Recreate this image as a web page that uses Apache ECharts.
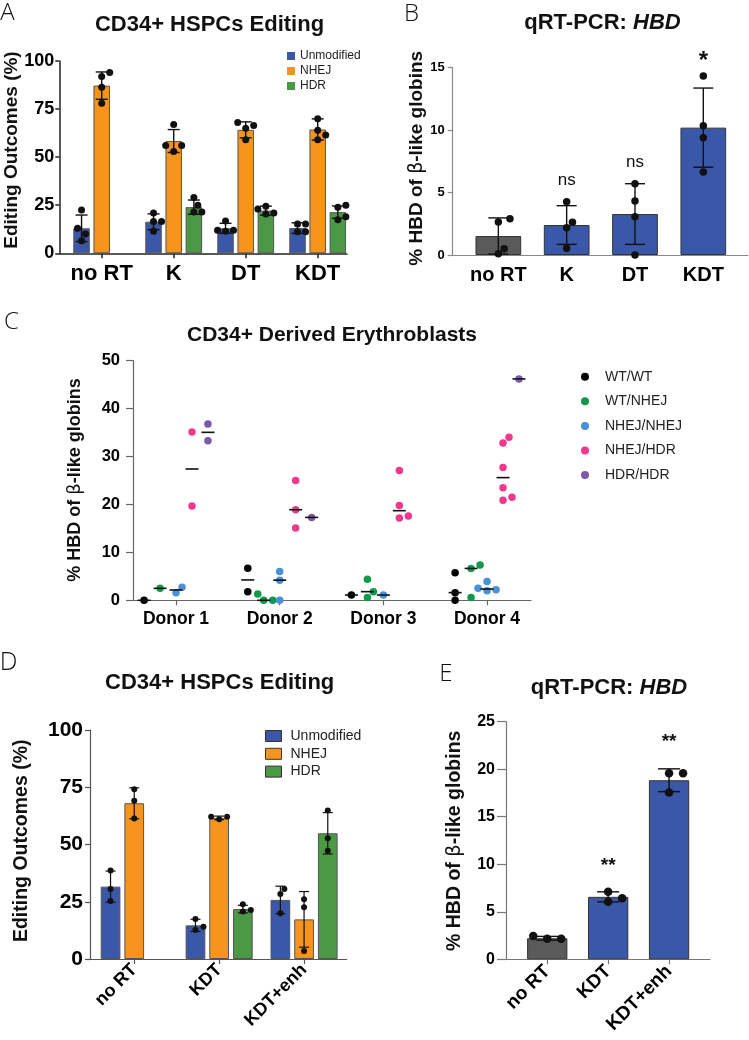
<!DOCTYPE html>
<html><head><meta charset="utf-8">
<script src="https://cdn.jsdelivr.net/npm/echarts@6/dist/echarts.min.js"></script>
<style>html,body{margin:0;padding:0;background:#fff}#c{width:749px;height:1040px}</style>
</head><body><div id="c"></div>
<script>
// ================= DATA =================
// Panel A
const catsA = ['no RT', 'K', 'DT', 'KDT'];
const outcomeNames = ['Unmodified', 'NHEJ', 'HDR'];
const aUnmodMean = [13.0, 16.4, 13.0, 13.1];
const aUnmodSd = [6.9, 4.1, 2.6, 2.75];
const aUnmodPts = [[22.5, 13, 10, 6.5], [21, 16.5, 16.5, 11.5], [16.8, 12, 12, 11.5], [15.2, 15.2, 11.2, 11.2]];
const aNhejMean = [87.2, 58.4, 64.2, 64.4];
const aNhejSd = [7.1, 5.95, 4.15, 5.5];
const aNhejPts = [[94, 92, 86.3, 78], [67, 56, 56, 53], [66.5, 68, 59, 65], [70, 64, 61.5, 59]];
const aHdrMean = [null, 24.0, 22.2, 21.4];
const aHdrSd = [null, 3.7, 2.35, 3.2];
const aHdrPts = [[], [29, 25, 21.5, 21.5], [24.5, 23, 21, 20.5], [25, 24, 19, 17.5]];
const aYTicks = [0, 25, 50, 75, 100];

// Panel B
const catsB = ['no RT', 'K', 'DT', 'KDT'];
const bMean = [1.52, 2.4, 3.28, 10.2];
const bSd = [1.45, 1.55, 2.43, 3.17];
const bPts = [[2.9, 2.65, 0.5, 0.1], [4.27, 2.62, 2.19, 0.54], [5.71, 4.33, 3.07, 0], [14.34, 10.36, 9.4, 6.65]];
const bSig = ['', 'ns', 'ns', '*'];
const bSigY = [0, 6.0, 7.4, 15.5];
const bYTicks = [0, 5, 10, 15];

// Panel C
const donors = ['Donor 1', 'Donor 2', 'Donor 3', 'Donor 4'];
const genotypes = ['WT/WT', 'WT/NHEJ', 'NHEJ/NHEJ', 'NHEJ/HDR', 'HDR/HDR'];
const cWtWt = [[0], [6.7, 1.8], [1.1], [5.75, 1.6, 0]];
const cWtNhej = [[2.5], [1.3, 0, 0], [4.4, 1.8, 0.6], [7.35, 6.65, 0.6]];
const cNhejNhej = [[2.7, 1.6], [6.0, 4.2, 0], [1.1], [3.9, 2.5, 2.2, 2.0]];
const cNhejHdr = [[35.1, 19.7], [25.0, 18.9, 15.1], [27.1, 19.8, 17.6, 17.2], [34.0, 32.8, 27.7, 23.5, 21.5, 20.9]];
const cHdrHdr = [[36.8, 33.3], [17.3], [], [46.2]];
const cYTicks = [0, 10, 20, 30, 40, 50];

// Panel D
const catsD = ['no RT', 'KDT', 'KDT+enh'];
const dUnmodMean = [31.6, 14.7, 25.8];
const dUnmodSd = [6.8, 2.65, 6.0];
const dUnmodPts = [[38.6, 30.6, 25.3], [17.5, 12.7, 14.1], [30.6, 28.4, 19.95]];
const dNhejMean = [68.0, 61.6, 17.3];
const dNhejSd = [6.75, 0.8, 12.15];
const dNhejPts = [[74.1, 69.1, 61.3], [61.0, 62.1, 62.1], [26.1, 22.6, 3.5]];
const dHdrMean = [null, 21.8, 54.9];
const dHdrSd = [null, 1.65, 9.05];
const dHdrPts = [[], [23.9, 20.7, 21.4], [64.8, 52.7, 47.3]];
const dYTicks = [0, 25, 50, 75, 100];

// Panel E
const catsE = ['no RT', 'KDT', 'KDT+enh'];
const eMean = [2.21, 6.57, 18.84];
const eSd = [0.2, 0.53, 1.2];
const ePts = [[2.15, 2.45, 2.15], [7.12, 6.06, 6.42], [19.58, 19.58, 17.54]];
const eSig = ['', '**', '**'];
const eSigY = [0, 9.85, 22.84];
const eYTicks = [0, 5, 10, 15, 20, 25];

// ================= STYLE / LAYOUT =================
const FONT = '"Liberation Sans", Arial, sans-serif';
const LETTER_FONT = '"Open Sans", "Noto Sans", sans-serif';
const COL = { Unmodified: '#3b57a7', NHEJ: '#f6941e', HDR: '#4b9945' };
const GENO_COL = ['#000000', '#0f9a4b', '#4a90d6', '#ee3a8c', '#7c59a6'];
const GRAY = '#5a5a5a', BLUE = '#3b57a7';

// beeswarm offsets (px) to avoid overlap of dots
function swarm(values, pxY, d, step) {
  const idx = values.map((v, i) => i).sort((a, b) => values[a] - values[b]);
  const placed = [], out = new Array(values.length);
  for (const i of idx) {
    const y = values[i] * pxY;
    let dx = 0;
    for (let n = 0; n < 60; n++) {
      dx = n === 0 ? 0 : (n % 2 ? 1 : -1) * Math.ceil(n / 2) * step;
      if (placed.every(p => Math.hypot(p.x - dx, p.y - y) >= d)) break;
    }
    placed.push({ x: dx, y });
    out[i] = dx;
  }
  return out;
}
function ptsData(groups, centers, pxX, pxY, d, step) {
  const res = [];
  groups.forEach((g, i) => {
    if (!g || !g.length) return;
    const off = swarm(g, pxY, d, step);
    g.forEach((v, k) => res.push([centers[i] + off[k] / pxX, v]));
  });
  return res;
}
function errSeries(gi, data, capHalf, lw) {
  return {
    type: 'custom', xAxisIndex: gi, yAxisIndex: gi, z: 5, clip: false, silent: true,
    data: data,
    renderItem: (p, api) => {
      const x = api.value(0), m = api.value(1), s = api.value(2);
      const t = api.coord([x, m + s]), b = api.coord([x, Math.max(0, m - s)]);
      const st = { stroke: '#111', lineWidth: lw };
      return { type: 'group', children: [
        { type: 'line', shape: { x1: t[0], y1: t[1], x2: b[0], y2: b[1] }, style: st },
        { type: 'line', shape: { x1: t[0] - capHalf, y1: t[1], x2: t[0] + capHalf, y2: t[1] }, style: st },
        { type: 'line', shape: { x1: b[0] - capHalf, y1: b[1], x2: b[0] + capHalf, y2: b[1] }, style: st }
      ]};
    }
  };
}
function textSeries(gi, data, labels, font) {
  return {
    type: 'custom', xAxisIndex: gi, yAxisIndex: gi, z: 7, clip: false, silent: true,
    data: data,
    renderItem: (p, api) => {
      const c = api.coord([api.value(0), api.value(1)]);
      return { type: 'text', x: c[0], y: c[1], style: { text: labels[p.dataIndex], align: 'center', verticalAlign: 'middle', textAlign: 'center', textVerticalAlign: 'middle', font: font, fill: '#111' } };
    }
  };
}
function dotSeries(gi, data, size, color, name) {
  return { type: 'scatter', name: name, xAxisIndex: gi, yAxisIndex: gi, z: 6, symbolSize: size, silent: true,
    itemStyle: { color: color, opacity: 1 }, data: data };
}
function barSeries(gi, name, data, width, colors, border) {
  return {
    type: 'bar', name: name, xAxisIndex: gi, yAxisIndex: gi, z: 2, barWidth: width, barGap: '-100%', silent: true,
    itemStyle: { color: COL[name] || BLUE, borderColor: border, borderWidth: 1 },
    data: data.map((d, i) => colors ? { value: d, itemStyle: { color: colors[i] } } : d)
  };
}
function xAxisCfg(gi, min, max, cats, o) {
  const vals = cats.map((c, i) => i + 1);
  return {
    type: 'value', gridIndex: gi, min: min, max: max, splitLine: { show: false },
    axisLine: { onZero: false, lineStyle: { color: o.line, width: o.lw } },
    axisTick: { show: o.tick, customValues: vals, length: 5, lineStyle: { color: o.line, width: o.lw } },
    axisLabel: { customValues: vals, formatter: v => cats[Math.round(v) - 1], fontFamily: FONT, fontWeight: 'bold',
      fontSize: o.fs, color: '#000', margin: o.margin, rotate: o.rotate || 0 }
  };
}
function yAxisCfg(gi, ticks, o) {
  return {
    type: 'value', gridIndex: gi, min: ticks[0], max: ticks[ticks.length - 1], interval: ticks[1] - ticks[0],
    splitLine: { show: false },
    axisLine: { show: true, onZero: false, lineStyle: { color: o.line, width: o.lw } },
    axisTick: { show: true, length: o.tl || 5, lineStyle: { color: o.line, width: o.lw } },
    axisLabel: { fontFamily: FONT, fontWeight: 'bold', fontSize: o.fs, color: '#000', margin: o.margin }
  };
}
function txt(x, y, text, size, weight, opts) {
  opts = opts || {};
  return { type: 'text', x: x, y: y, rotation: opts.rot || 0, silent: true,
    style: { text: text, fontSize: size, fontWeight: weight, fontFamily: opts.family || FONT, fill: '#111',
      align: 'center', verticalAlign: 'middle', textAlign: 'center', textVerticalAlign: 'middle', rich: opts.rich } };
}
const betaRich = s => ({ b: { fontSize: s, fontWeight: 'normal', fontFamily: '"DejaVu Sans", sans-serif', fill: '#111' } });
const italRich = s => ({ i: { fontSize: s, fontWeight: 'bold', fontStyle: 'italic', fontFamily: FONT, fill: '#111' } });

// grids
const grids = [
  { left: 59.3, top: 61, width: 287.7, height: 192.3 },
  { left: 452.7, top: 67.7, width: 295.3, height: 187.3 },
  { left: 133, top: 360.7, width: 398, height: 239.6 },
  { left: 90, top: 730, width: 256.7, height: 229 },
  { left: 506, top: 721.7, width: 204, height: 237.6 }
];
const PX = { A: [72, 192.3 / 100], B: [68.3, 187.3 / 15], C: [103.9, 239.6 / 50], D: [85, 229 / 100], E: [61, 237.6 / 25] };

const series = [];
// ---- A ----
const offA = 0.28;
[[aUnmodMean, aUnmodSd, aUnmodPts], [aNhejMean, aNhejSd, aNhejPts], [aHdrMean, aHdrSd, aHdrPts]].forEach((s, k) => {
  const centers = catsA.map((c, i) => i + 1 + (k - 1) * offA);
  const bars = [], errs = [];
  s[0].forEach((m, i) => { if (m != null) { bars.push([centers[i], m]); errs.push([centers[i], m, s[1][i]]); } });
  series.push(barSeries(0, outcomeNames[k], bars, 16.5, null, '#555'));
  series.push(errSeries(0, errs, 6, 1.4));
  series.push(dotSeries(0, ptsData(s[2], centers, PX.A[0], PX.A[1], 7.5, 4), 7, '#111'));
});
// ---- B ----
{
  const centers = catsB.map((c, i) => i + 1);
  series.push(barSeries(1, 'B', bMean.map((m, i) => [centers[i], m]), 45.7, [GRAY, BLUE, BLUE, BLUE], '#333'));
  series.push(errSeries(1, bMean.map((m, i) => [centers[i], m, bSd[i]]), 10, 1.4));
  series.push(dotSeries(1, ptsData(bPts, centers, PX.B[0], PX.B[1], 7.5, 5.8), 7.5, '#111'));
  series.push(textSeries(1, bSigY.map((v, i) => [centers[i], v]), bSig.map((s, i) => s), ''));
  series[series.length - 1].renderItem = (p, api) => {
    const c = api.coord([api.value(0), api.value(1)]);
    const lab = bSig[p.dataIndex];
    const f = lab === '*' ? 'bold 24px ' + FONT : 'normal 17px ' + FONT;
    return { type: 'text', x: c[0], y: c[1], style: { text: lab, align: 'center', verticalAlign: 'middle', textAlign: 'center', textVerticalAlign: 'middle', font: f, fill: '#111' } };
  };
}
// ---- C ----
const offC = 0.154;
[cWtWt, cWtNhej, cNhejNhej, cNhejHdr, cHdrHdr].forEach((groups, g) => {
  const centers = donors.map((d, i) => i + 1 + (g - 2) * offC);
  series.push(dotSeries(2, ptsData(groups, centers, PX.C[0], PX.C[1], 7.5, 3), 7.5, GENO_COL[g], genotypes[g]));
  const med = [];
  groups.forEach((vals, i) => {
    if (!vals.length) return;
    const s = vals.slice().sort((a, b) => a - b), n = s.length;
    med.push([centers[i], n % 2 ? s[(n - 1) / 2] : (s[n / 2 - 1] + s[n / 2]) / 2]);
  });
  series.push({
    type: 'custom', xAxisIndex: 2, yAxisIndex: 2, z: 7, clip: false, silent: true, data: med,
    renderItem: (p, api) => {
      const c = api.coord([api.value(0), api.value(1)]);
      return { type: 'line', shape: { x1: c[0] - 6.5, y1: c[1], x2: c[0] + 6.5, y2: c[1] }, style: { stroke: '#111', lineWidth: 1.6 } };
    }
  });
});
// ---- D ----
const offD = 0.279;
[[dUnmodMean, dUnmodSd, dUnmodPts], [dNhejMean, dNhejSd, dNhejPts], [dHdrMean, dHdrSd, dHdrPts]].forEach((s, k) => {
  const centers = catsD.map((c, i) => i + 1 + (k - 1) * offD);
  const bars = [], errs = [];
  s[0].forEach((m, i) => { if (m != null) { bars.push([centers[i], m]); errs.push([centers[i], m, s[1][i]]); } });
  series.push(barSeries(3, outcomeNames[k], bars, 19.7, null, '#555'));
  series.push(errSeries(3, errs, 5, 1.2));
  series.push(dotSeries(3, ptsData(s[2], centers, PX.D[0], PX.D[1], 6, 4), 6, '#111'));
});
// ---- E ----
{
  const centers = catsE.map((c, i) => i + 1);
  series.push(barSeries(4, 'E', eMean.map((m, i) => [centers[i], m]), 40.3, [GRAY, BLUE, BLUE], '#333'));
  series.push(errSeries(4, eMean.map((m, i) => [centers[i], m, eSd[i]]), 11, 1.4));
  series.push(dotSeries(4, ptsData(ePts, centers, PX.E[0], PX.E[1], 9, 7), 8.5, '#111'));
  series.push(textSeries(4, eSigY.map((v, i) => [centers[i], v]), eSig, 'bold 19px ' + FONT));
}

const option = {
  animation: false,
  backgroundColor: '#fff',
  grid: grids.map(g => Object.assign({ containLabel: false }, g)),
  xAxis: [
    xAxisCfg(0, 0.411, 4.407, catsA, { line: '#222', lw: 1.5, tick: true, fs: 22, margin: 10 }),
    xAxisCfg(1, 0.332, 4.654, catsB, { line: '#888', lw: 1.2, tick: false, fs: 20, margin: 10 }),
    xAxisCfg(2, 0.585, 4.424, donors, { line: '#666', lw: 1.2, tick: true, fs: 17.5, margin: 10 }),
    xAxisCfg(3, 0.479, 3.502, catsD, { line: '#555', lw: 1.2, tick: true, fs: 18, margin: 8, rotate: 45 }),
    xAxisCfg(4, 0.323, 3.672, catsE, { line: '#777', lw: 1.2, tick: true, fs: 19, margin: 9, rotate: 45 })
  ],
  yAxis: [
    yAxisCfg(0, aYTicks, { line: '#222', lw: 1.5, fs: 18, margin: 5, tl: 4 }),
    yAxisCfg(1, bYTicks, { line: '#888', lw: 1.2, fs: 13, margin: 8 }),
    yAxisCfg(2, cYTicks, { line: '#666', lw: 1.2, fs: 16.5, margin: 13, tl: 7 }),
    yAxisCfg(3, dYTicks, { line: '#555', lw: 1.2, fs: 21, margin: 7 }),
    yAxisCfg(4, eYTicks, { line: '#777', lw: 1.2, fs: 16, margin: 11, tl: 9 })
  ],
  legend: [
    { data: outcomeNames.map(n => ({ name: n, itemStyle: { color: COL[n], borderWidth: 0 } })), left: 282, top: 45, orient: 'vertical', icon: 'rect',
      itemWidth: 8, itemHeight: 8, itemGap: 3, selectedMode: false,
      textStyle: { fontFamily: FONT, fontSize: 12, lineHeight: 12, color: '#222' } },
    { data: genotypes, left: 576, top: 364.7, orient: 'vertical', icon: 'circle', itemWidth: 8, itemHeight: 8, itemGap: 10.6,
      selectedMode: false, textStyle: { fontFamily: FONT, fontSize: 14, lineHeight: 14, color: '#222', padding: [0, 0, 0, 11] } },
    { data: outcomeNames.map(n => ({ name: n, itemStyle: { color: COL[n], borderColor: '#333', borderWidth: 1 } })), left: 260, top: 724, orient: 'vertical', icon: 'rect',
      itemWidth: 16, itemHeight: 11, itemGap: 3.8, selectedMode: false,
      textStyle: { fontFamily: FONT, fontSize: 14, lineHeight: 14, color: '#222', padding: [0, 0, 0, 4] } }
  ],
  graphic: [
    txt(7.5, 13, 'A', 24, 300, { family: LETTER_FONT }),
    txt(411.5, 14, 'B', 24, 300, { family: LETTER_FONT }),
    txt(11.5, 322.5, 'C', 24, 300, { family: LETTER_FONT }),
    txt(8.5, 662.5, 'D', 25, 300, { family: LETTER_FONT }),
    txt(446, 674, 'E', 24, 300, { family: LETTER_FONT }),
    txt(209.5, 25, 'CD34+ HSPCs Editing', 22, 'bold'),
    txt(602.5, 23.3, 'qRT-PCR: {i|HBD}', 22, 'bold', { rich: italRich(22) }),
    txt(332, 335, 'CD34+ Derived Erythroblasts', 21, 'bold'),
    txt(219.7, 683.3, 'CD34+ HSPCs Editing', 22, 'bold'),
    txt(609, 688.3, 'qRT-PCR: {i|HBD}', 22, 'bold', { rich: italRich(22) }),
    txt(12, 150, 'Editing Outcomes (%)', 19, 'bold', { rot: Math.PI / 2 }),
    txt(416.7, 158.3, '% HBD of {b|β}-like globins', 19, 'bold', { rot: Math.PI / 2, rich: betaRich(19) }),
    txt(75, 480, '% HBD of {b|β}-like globins', 18, 'bold', { rot: Math.PI / 2, rich: betaRich(18) }),
    txt(21.7, 840.8, 'Editing Outcomes (%)', 19.5, 'bold', { rot: Math.PI / 2 }),
    txt(455, 840.8, '% HBD of {b|β}-like globins', 19.5, 'bold', { rot: Math.PI / 2, rich: betaRich(19.5) })
  ],
  series: series
};
const chart = echarts.init(document.getElementById('c'), null, { renderer: 'canvas', width: 749, height: 1040 });
chart.setOption(option);
</script></body></html>
